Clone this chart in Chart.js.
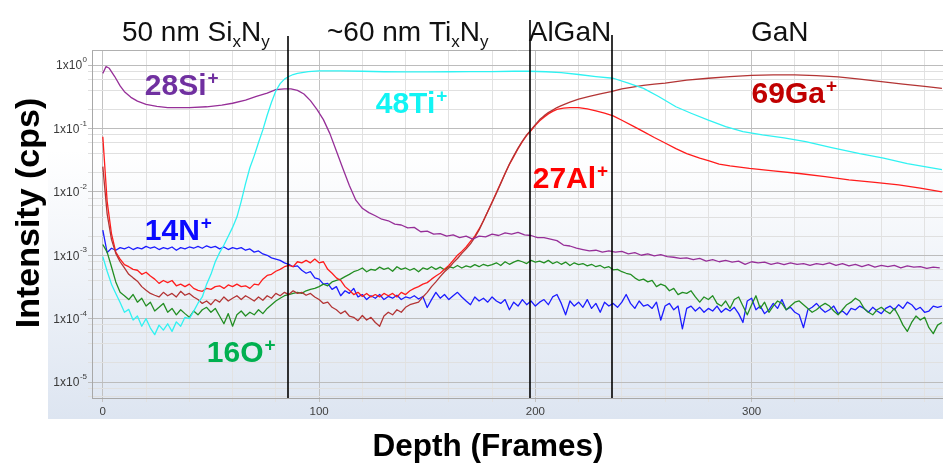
<!DOCTYPE html>
<html>
<head>
<meta charset="utf-8">
<script src="https://cdn.jsdelivr.net/npm/chart.js@4.4.1/dist/chart.umd.min.js"></script>
<style>
  html, body { margin: 0; padding: 0; background: #ffffff; }
  #box { width: 943px; height: 464px; }
</style>
</head>
<body>
<div id="box"><canvas id="profile" width="943" height="464"></canvas></div>
<script>
const FONT = '"Liberation Sans", Arial, Helvetica, sans-serif';

// ---------------- SIMS depth profile data (intensity in cps vs. sputter frame) ----------------
// Noisy channels are recorded on a grid of every second frame, starting at frame 0.
const FRAME_STEP = 2;

// 14N+  (frames 0..388)
const n14 = [
  2.5e-3,1.1e-3,1.29e-3,1.2e-3,1.32e-3,1.26e-3,1.35e-3,1.23e-3,1.32e-3,1.26e-3,
  1.38e-3,1.29e-3,1.35e-3,1.23e-3,1.32e-3,1.26e-3,1.35e-3,1.2e-3,1.32e-3,1.26e-3,
  1.35e-3,1.29e-3,1.38e-3,1.29e-3,1.41e-3,1.32e-3,1.38e-3,1.26e-3,1.35e-3,1.23e-3,
  1.32e-3,1.26e-3,1.32e-3,1.2e-3,1.26e-3,1.12e-3,1.17e-3,1.05e-3,1.0e-3,9.1e-4,
  8.7e-4,8.3e-4,7.6e-4,7.2e-4,6.6e-4,6.8e-4,5.8e-4,5.2e-4,5.5e-4,4.4e-4,
  4.2e-4,3.5e-4,3.6e-4,2.9e-4,3.2e-4,2.3e-4,2.75e-4,2.5e-4,3.0e-4,2.2e-4,
  2.4e-4,2.0e-4,2.3e-4,2.1e-4,2.4e-4,2.0e-4,2.24e-4,2.1e-4,2.34e-4,2.0e-4,
  2.2e-4,2.1e-4,2.3e-4,2.04e-4,2.24e-4,1.5e-4,2.0e-4,2.6e-4,2.1e-4,2.4e-4,
  2.0e-4,2.3e-4,2.6e-4,2.2e-4,1.9e-4,1.66e-4,2.2e-4,1.9e-4,2.1e-4,1.82e-4,
  2.2e-4,1.9e-4,1.74e-4,2.0e-4,1.38e-4,1.82e-4,1.58e-4,2.0e-4,1.66e-4,1.9e-4,
  1.58e-4,1.82e-4,2.0e-4,1.66e-4,2.2e-4,2.4e-4,1.74e-4,1.15e-4,1.9e-4,1.58e-4,
  1.82e-4,1.51e-4,2.0e-4,1.45e-4,1.74e-4,1.26e-4,1.82e-4,1.58e-4,1.74e-4,1.51e-4,
  1.82e-4,2.4e-4,1.74e-4,1.45e-4,1.9e-4,1.58e-4,1.66e-4,1.45e-4,1.82e-4,9.5e-5,
  1.58e-4,1.74e-4,1.38e-4,1.58e-4,6.9e-5,1.45e-4,1.58e-4,1.32e-4,1.51e-4,1.26e-4,
  1.45e-4,1.32e-4,1.58e-4,1.26e-4,1.45e-4,1.32e-4,1.51e-4,1.2e-4,8.7e-5,1.9e-4,
  2.1e-4,1.38e-4,1.58e-4,1.2e-4,1.38e-4,1.74e-4,1.45e-4,2.0e-4,1.38e-4,1.51e-4,
  1.26e-4,1.15e-4,7.2e-5,1.38e-4,1.51e-4,1.74e-4,1.45e-4,1.26e-4,1.38e-4,1.58e-4,
  1.2e-4,1.32e-4,1.15e-4,1.45e-4,1.38e-4,1.58e-4,1.45e-4,1.26e-4,1.51e-4,1.32e-4,
  1.2e-4,1.45e-4,1.58e-4,1.38e-4,1.66e-4,1.45e-4,1.82e-4,1.66e-4,1.38e-4,1.51e-4,
  1.26e-4,1.32e-4,1.58e-4,1.51e-4,1.58e-4
];

// 16O+  (frames 0..388)
const o16 = [
  1.48e-3,1.12e-3,6.6e-4,3.8e-4,2.6e-4,2.3e-4,2.0e-4,2.4e-4,1.82e-4,2.1e-4,
  1.58e-4,1.82e-4,1.32e-4,1.51e-4,1.74e-4,1.26e-4,1.45e-4,1.15e-4,1.38e-4,1.2e-4,
  1.05e-4,1.32e-4,1.15e-4,1.38e-4,1.51e-4,1.26e-4,1.45e-4,1.1e-4,8.3e-5,1.2e-4,
  7.6e-5,1.15e-4,1.32e-4,1.1e-4,1.26e-4,1.15e-4,1.38e-4,1.2e-4,1.45e-4,1.66e-4,
  1.9e-4,2.1e-4,2.3e-4,2.4e-4,2.5e-4,2.6e-4,2.5e-4,2.75e-4,2.9e-4,3.0e-4,
  3.2e-4,3.5e-4,3.3e-4,3.8e-4,4.0e-4,4.2e-4,4.6e-4,5.0e-4,5.5e-4,5.8e-4,
  6.3e-4,5.5e-4,6.0e-4,5.8e-4,6.5e-4,6.0e-4,6.3e-4,5.6e-4,6.6e-4,6.0e-4,
  6.3e-4,5.8e-4,6.2e-4,5.5e-4,6.3e-4,6.0e-4,6.6e-4,6.0e-4,6.5e-4,5.9e-4,
  6.6e-4,6.3e-4,6.9e-4,6.3e-4,6.8e-4,6.5e-4,7.1e-4,6.6e-4,7.2e-4,6.8e-4,
  7.1e-4,7.6e-4,6.9e-4,7.9e-4,7.2e-4,7.8e-4,8.3e-4,7.9e-4,7.4e-4,8.3e-4,
  7.8e-4,8.1e-4,7.6e-4,8.3e-4,7.4e-4,7.9e-4,7.2e-4,7.8e-4,6.9e-4,7.6e-4,
  7.1e-4,7.4e-4,6.8e-4,7.2e-4,6.6e-4,6.9e-4,6.3e-4,6.6e-4,5.9e-4,6.0e-4,
  5.5e-4,5.2e-4,5.0e-4,4.4e-4,4.0e-4,4.2e-4,3.8e-4,4.0e-4,3.2e-4,3.5e-4,
  3.3e-4,2.75e-4,3.0e-4,2.4e-4,2.6e-4,2.5e-4,2.75e-4,2.2e-4,1.82e-4,2.2e-4,
  2.0e-4,2.3e-4,1.74e-4,1.58e-4,1.9e-4,1.45e-4,2.0e-4,2.2e-4,1.58e-4,1.15e-4,
  1.66e-4,2.3e-4,1.45e-4,1.82e-4,1.26e-4,1.58e-4,1.9e-4,1.74e-4,1.38e-4,1.58e-4,
  1.82e-4,1.9e-4,1.66e-4,1.45e-4,1.26e-4,1.38e-4,1.58e-4,1.74e-4,1.58e-4,1.32e-4,
  1.15e-4,1.38e-4,1.66e-4,1.82e-4,2.1e-4,1.9e-4,1.45e-4,1.26e-4,1.15e-4,1.38e-4,
  1.51e-4,1.32e-4,1.2e-4,1.45e-4,1.1e-4,7.9e-5,6.3e-5,8.7e-5,1.1e-4,9.5e-5,
  1.05e-4,7.2e-5,5.8e-5,7.9e-5,8.7e-5
];

// 27Al+  (frames 0..210 on the 2-frame grid, then sparser points)
const al27Head = [
  7.4e-2,7.1e-3,2.2e-3,1.12e-3,8.7e-4,7.1e-4,6.6e-4,6.0e-4,5.8e-4,5.0e-4,
  5.4e-4,4.7e-4,4.2e-4,3.6e-4,4.0e-4,3.7e-4,4.0e-4,3.3e-4,3.5e-4,3.2e-4,
  3.5e-4,3.0e-4,2.8e-4,2.7e-4,3.0e-4,2.9e-4,3.2e-4,3.3e-4,3.0e-4,3.4e-4,
  3.2e-4,3.5e-4,3.2e-4,3.3e-4,3.0e-4,3.5e-4,3.4e-4,4.2e-4,4.8e-4,5.0e-4,
  5.6e-4,6.0e-4,6.6e-4,6.9e-4,6.6e-4,7.9e-4,7.6e-4,8.3e-4,7.6e-4,8.7e-4,
  7.6e-4,7.9e-4,6.0e-4,5.2e-4,4.4e-4,4.0e-4,3.2e-4,2.8e-4,2.4e-4,2.6e-4,
  2.24e-4,2.5e-4,2.2e-4,2.4e-4,2.2e-4,2.5e-4,2.3e-4,2.5e-4,2.2e-4,2.6e-4,
  2.4e-4,2.75e-4,3.0e-4,3.2e-4,3.5e-4,3.7e-4,4.2e-4,4.7e-4,5.2e-4,6.0e-4,
  6.9e-4,8.3e-4,1.0e-3,1.15e-3,1.35e-3,1.66e-3,2.0e-3,2.6e-3,3.5e-3,4.9e-3,
  6.9e-3,9.8e-3,1.38e-2,1.95e-2,2.7e-2,3.6e-2,4.8e-2,6.2e-2,7.8e-2,9.3e-2,
  0.112,0.132,0.151,0.170,0.186,0.200
];
const al27TailDepth = [213,216,220,224,228,232,236,240,245,250,255,260,265,270,276,280,285,290,299,310,322,334,345,357,368,378,388];
const al27Tail = [0.209,0.214,0.214,0.204,0.19,0.174,0.158,0.135,0.110,0.089,0.072,0.059,0.048,0.040,0.034,0.031,0.0275,0.0257,0.0234,0.0214,0.0195,0.0174,0.0155,0.0141,0.0129,0.0115,0.0100];

// 69Ga+  (frames 0..220 on the 2-frame grid, then sparser points)
const ga69Head = [
  2.5e-2,4.5e-3,1.78e-3,1.07e-3,7.9e-4,6.3e-4,5.0e-4,4.4e-4,3.9e-4,3.2e-4,
  2.8e-4,2.5e-4,2.34e-4,2.2e-4,2.6e-4,2.3e-4,2.5e-4,2.2e-4,2.7e-4,2.34e-4,
  2.5e-4,2.2e-4,2.0e-4,1.74e-4,1.9e-4,1.66e-4,2.0e-4,1.82e-4,2.2e-4,1.9e-4,
  2.1e-4,2.3e-4,2.0e-4,2.3e-4,2.1e-4,1.9e-4,2.2e-4,1.95e-4,2.3e-4,2.1e-4,
  2.5e-4,2.3e-4,2.6e-4,2.4e-4,2.75e-4,2.5e-4,2.6e-4,2.34e-4,2.5e-4,2.2e-4,
  2.0e-4,1.74e-4,1.82e-4,1.51e-4,1.38e-4,1.2e-4,1.32e-4,1.1e-4,1.05e-4,9.3e-5,
  1.12e-4,9.5e-5,1.05e-4,8.7e-5,7.6e-5,1.1e-4,1.26e-4,1.15e-4,1.38e-4,1.26e-4,
  1.51e-4,1.66e-4,1.74e-4,1.82e-4,2.2e-4,2.6e-4,3.2e-4,3.8e-4,4.6e-4,5.5e-4,
  6.3e-4,7.6e-4,8.9e-4,1.07e-3,1.26e-3,1.51e-3,1.91e-3,2.5e-3,3.5e-3,4.9e-3,
  6.8e-3,9.5e-3,1.35e-2,1.95e-2,2.75e-2,3.7e-2,4.9e-2,6.3e-2,7.9e-2,9.5e-2,
  0.115,0.138,0.158,0.178,0.195,0.214,0.23,0.245,0.26,0.275,
  0.29
];
const ga69TailDepth = [225,230,235,240,245,250,255,260,270,280,290,300,310,320,330,340,350,360,370,380,388];
const ga69Tail = [0.32,0.35,0.38,0.42,0.45,0.48,0.50,0.52,0.58,0.62,0.66,0.69,0.70,0.70,0.68,0.65,0.60,0.55,0.50,0.46,0.43];

// 48Ti+  (frames 0..90 on the 2-frame grid, then sparser points)
const ti48Head = [
  9.5e-4,5.6e-4,3.5e-4,2.5e-4,1.8e-4,1.26e-4,1.4e-4,9.5e-5,1.1e-4,7.6e-5,
  1.0e-4,7.1e-5,5.6e-5,7.9e-5,6.6e-5,8.3e-5,6.3e-5,8.9e-5,7.6e-5,1.05e-4,
  1.0e-4,1.3e-4,1.75e-4,2.2e-4,3.5e-4,5.0e-4,7.9e-4,1.1e-3,1.45e-3,2.0e-3,
  2.75e-3,4.0e-3,7.1e-3,1.35e-2,2.4e-2,3.7e-2,6.0e-2,9.5e-2,0.162,0.26,
  0.39,0.51,0.60,0.66,0.71,0.74
];
const ti48TailDepth = [95,100,110,120,130,140,150,160,170,180,190,197,205,212,220,228,236,243,250,257,265,272,280,288,296,305,315,325,337,350,361,372,380,388];
const ti48Tail = [0.79,0.81,0.81,0.80,0.785,0.78,0.78,0.785,0.79,0.79,0.80,0.80,0.785,0.76,0.71,0.66,0.62,0.52,0.43,0.32,0.22,0.174,0.135,0.107,0.089,0.079,0.071,0.062,0.050,0.040,0.034,0.028,0.025,0.0224];

// 28Si+  (explicit frame positions)
const si28Depth = [
  0,1.5,3,5.5,8,10,13,16,20,25,30,35,40,48,55,60,66,71,76,80,84,87,90,93,96,99,102,105,108,111,114,117,120,
  123,126,129,132,135,138,141,144,147,150,153,156,159,162,165,168,171,174,177,180,
  183,186,189,192,195,198,201,204,207,210,213,216,219,222,225,228,231,234,237,240,
  243,246,249,252,255,258,261,264,267,270,273,276,279,282,285,288,291,294,297,300,
  303,306,309,312,315,318,321,324,327,330,333,336,339,342,345,348,351,354,357,360,
  363,366,369,372,375,378,381,384,387
];
const si28 = [
  0.74,0.95,0.89,0.66,0.47,0.38,0.31,0.27,0.24,0.224,0.214,0.214,0.214,0.22,0.234,0.25,0.28,0.32,0.36,0.41,0.42,0.42,0.40,0.35,0.275,0.20,0.138,0.083,0.044,0.0234,0.0126,0.0074,0.0055,
  4.7e-3,4.2e-3,3.7e-3,3.5e-3,3.1e-3,3.0e-3,2.7e-3,2.75e-3,2.35e-3,2.4e-3,2.15e-3,2.2e-3,2.0e-3,2.1e-3,1.9e-3,2.0e-3,1.8e-3,2.0e-3,1.95e-3,2.15e-3,
  2.05e-3,2.25e-3,2.15e-3,2.3e-3,2.1e-3,2.05e-3,1.9e-3,1.9e-3,1.8e-3,1.7e-3,1.45e-3,1.4e-3,1.3e-3,1.23e-3,1.17e-3,1.2e-3,1.12e-3,1.17e-3,1.12e-3,1.15e-3,
  1.05e-3,1.1e-3,1.0e-3,1.05e-3,9.8e-4,1.02e-3,9.5e-4,9.3e-4,8.9e-4,9.1e-4,8.5e-4,8.9e-4,8.1e-4,8.5e-4,7.9e-4,8.3e-4,7.8e-4,8.1e-4,7.2e-4,7.9e-4,
  7.6e-4,7.8e-4,7.2e-4,7.6e-4,7.1e-4,7.6e-4,7.2e-4,7.4e-4,6.9e-4,7.4e-4,7.1e-4,7.6e-4,6.9e-4,7.4e-4,6.8e-4,7.2e-4,6.6e-4,7.1e-4,6.5e-4,6.9e-4,
  6.6e-4,6.9e-4,6.3e-4,6.8e-4,6.5e-4,6.6e-4,6.2e-4,6.5e-4,6.3e-4
];

// ---------------- axes, layers and labels ----------------
const depthRange = [-5, 388.5];
const intensityRange = [5.6e-6, 1.73];
const decadeExponents = [0, -1, -2, -3, -4, -5];
const minorMantissas = [2, 4, 6, 8];
const layerBounds = [85.5, 197.5, 235.5];
const layerNames = [
  { at: 43,  runs: [['50 nm Si', 0], ['x', 1], ['N', 0], ['y', 1]] },
  { at: 141, runs: [['~60 nm Ti', 0], ['x', 1], ['N', 0], ['y', 1]] },
  { at: 216, runs: [['AlGaN', 0]] },
  { at: 313, runs: [['GaN', 0]] }
];
const ionLabels = [
  { text: '28Si', color: '#7030a0', at: [19.4, 0.336] },
  { text: '48Ti', color: '#12f4f4', at: [126.2, 0.175] },
  { text: '69Ga', color: '#c00000', at: [300, 0.252] },
  { text: '27Al', color: '#ff0000', at: [198.8, 0.0115] },
  { text: '14N',  color: '#0a0aff', at: [19.4, 1.74e-3] },
  { text: '16O',  color: '#00b050', at: [48.1, 2.07e-5] }
];

// ---------------- helpers ----------------
const onFrameGrid = vals => vals.map((v, i) => ({ x: i * FRAME_STEP, y: v }));
const paired = (xs, ys) => xs.map((x, i) => ({ x, y: ys[i] }));

const gridValues = [];
decadeExponents.concat([-6]).forEach(e => {
  [1].concat(minorMantissas).forEach(m => {
    const v = m * Math.pow(10, e);
    if (v >= intensityRange[0] && v <= intensityRange[1]) gridValues.push(v);
  });
});
gridValues.sort((a, b) => a - b);
const isDecade = v => Math.abs(Math.log10(v) - Math.round(Math.log10(v))) < 1e-6;

function trace(color, points) {
  return {
    data: points, borderColor: color, borderWidth: 1.3, pointRadius: 0,
    tension: 0, borderJoinStyle: 'round', fill: false
  };
}

const decor = {
  id: 'decor',
  beforeDraw(chart) {
    const { ctx } = chart;
    ctx.save();
    ctx.fillStyle = '#ffffff';
    ctx.fillRect(0, 0, chart.width, chart.height);
    const g = ctx.createLinearGradient(0, 150, 0, 419);
    g.addColorStop(0, '#ffffff');
    g.addColorStop(1, '#dde5f1');
    ctx.fillStyle = g;
    ctx.fillRect(48, 0, chart.width - 48, 419);
    ctx.restore();
  },
  afterDatasetsDraw(chart) {
    const { ctx, chartArea, scales } = chart;
    ctx.save();
    // top frame edge
    ctx.strokeStyle = '#b0b0b0';
    ctx.lineWidth = 1;
    ctx.beginPath();
    ctx.moveTo(chartArea.left, chartArea.top + 0.5);
    ctx.lineTo(chartArea.right, chartArea.top + 0.5);
    ctx.stroke();
    // layer interfaces
    const rise = [14, 30, 15];
    ctx.strokeStyle = '#000000';
    ctx.lineWidth = 1.6;
    layerBounds.forEach((d, i) => {
      const x = Math.round(scales.x.getPixelForValue(d));
      ctx.beginPath();
      ctx.moveTo(x, chartArea.top - rise[i]);
      ctx.lineTo(x, chartArea.bottom);
      ctx.stroke();
    });
    ctx.restore();
  },
  afterDraw(chart) {
    const { ctx, chartArea, scales } = chart;
    ctx.save();
    // y tick labels: 1x10^n
    ctx.fillStyle = '#3a3a3a';
    ctx.textAlign = 'right';
    ctx.textBaseline = 'middle';
    const right = chartArea.left - 5;
    decadeExponents.forEach(e => {
      const y = scales.y.getPixelForValue(Math.pow(10, e));
      const exp = String(e);
      ctx.font = '8px ' + FONT;
      const ew = ctx.measureText(exp).width;
      ctx.fillText(exp, right, y - 5);
      ctx.font = '12px ' + FONT;
      ctx.fillText('1x10', right - ew - 0.5, y + 1);
    });

    // layer names above the plot
    ctx.fillStyle = '#111111';
    ctx.textAlign = 'left';
    ctx.textBaseline = 'alphabetic';
    const fonts = ['28px ' + FONT, '17px ' + FONT];
    layerNames.forEach(({ at, runs }) => {
      let total = 0;
      runs.forEach(([t, sub]) => { ctx.font = fonts[sub]; total += ctx.measureText(t).width; });
      let x = scales.x.getPixelForValue(at) - total / 2;
      runs.forEach(([t, sub]) => {
        ctx.font = fonts[sub];
        ctx.fillText(t, x, chartArea.top - 9 + (sub ? 6 : 0));
        x += ctx.measureText(t).width;
      });
    });

    // ion labels, placed in data coordinates
    ionLabels.forEach(({ text, color, at }) => {
      const x = scales.x.getPixelForValue(at[0]);
      const y = scales.y.getPixelForValue(at[1]);
      ctx.fillStyle = color;
      ctx.font = 'bold 30px ' + FONT;
      ctx.fillText(text, x, y);
      const w = ctx.measureText(text).width;
      ctx.font = 'bold 19px ' + FONT;
      ctx.fillText('+', x + w + 1, y - 11);
    });

    // axis titles
    ctx.fillStyle = '#000000';
    ctx.textAlign = 'center';
    ctx.font = 'bold 31.5px ' + FONT;
    ctx.fillText('Depth (Frames)', 488, 456);
    ctx.font = 'bold 34px ' + FONT;
    ctx.translate(39, 213);
    ctx.rotate(-Math.PI / 2);
    ctx.fillText('Intensity (cps)', 0, 0);
    ctx.restore();
  }
};

new Chart(document.getElementById('profile'), {
  type: 'line',
  data: {
    datasets: [
      trace('#30f2f2', onFrameGrid(ti48Head).concat(paired(ti48TailDepth, ti48Tail))),
      trace('#962f98', paired(si28Depth, si28)),
      trace('#b33434', onFrameGrid(ga69Head).concat(paired(ga69TailDepth, ga69Tail))),
      trace('#ff1c1c', onFrameGrid(al27Head).concat(paired(al27TailDepth, al27Tail))),
      trace('#238e23', onFrameGrid(o16)),
      trace('#1c1cff', onFrameGrid(n14))
    ]
  },
  options: {
    responsive: false,
    animation: false,
    devicePixelRatio: 1,
    layout: { padding: { top: 50, left: 0, right: 0, bottom: 0 } },
    plugins: { legend: { display: false }, tooltip: { enabled: false } },
    scales: {
      x: {
        type: 'linear',
        min: depthRange[0],
        max: depthRange[1],
        afterFit: s => { s.height = 66; },
        ticks: {
          stepSize: 20, includeBounds: false, autoSkip: false, maxRotation: 0,
          padding: 3, color: '#404040',
          font: { family: FONT, size: 11.5 },
          callback: v => (v % 100 === 0 ? String(v) : '')
        },
        grid: {
          color: c => (c.tick && c.tick.value % 100 === 0 ? '#c2c2c2' : '#e2e2e2'),
          tickLength: 4
        },
        border: { color: '#a8a8a8' }
      },
      y: {
        type: 'logarithmic',
        min: intensityRange[0],
        max: intensityRange[1],
        afterFit: s => { s.width = 92; },
        afterBuildTicks: s => { s.ticks = gridValues.map(v => ({ value: v })); },
        ticks: { display: false, autoSkip: false },
        grid: {
          color: c => (c.tick && isDecade(c.tick.value) ? '#bcbcbc' : '#e0e0e0'),
          tickLength: 4
        },
        border: { color: '#a8a8a8' }
      }
    }
  },
  plugins: [decor]
});
</script>
</body>
</html>
